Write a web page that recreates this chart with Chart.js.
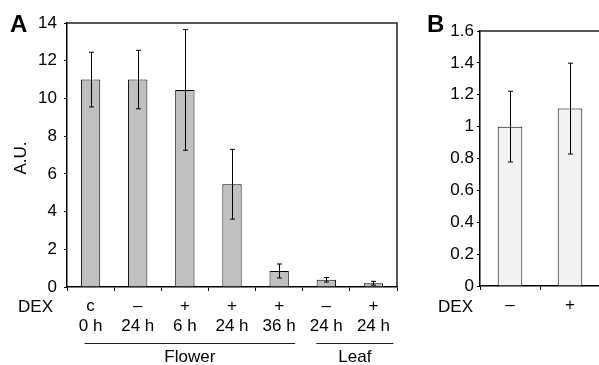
<!DOCTYPE html>
<html lang="en">
<head>
  <meta charset="UTF-8">
  <title>DEX expression - A.U.</title>
  <script src="https://cdn.jsdelivr.net/npm/chart.js"></script>
  <style>
    body {
      margin: 0;
      width: 599px;
      height: 365px;
      overflow: hidden;
      background: #fff;
      position: relative;
      font-family: "Liberation Sans", Arial, sans-serif;
    }
    canvas { position: absolute; top: 0; }
    #chartA { left: 0; }
    #chartB { left: 400px; }
  </style>
</head>
<body>
  <canvas id="chartA" width="410" height="365"></canvas>
  <canvas id="chartB" width="210" height="365"></canvas>

  <script>
    // Panel A data
    const dexA = ['c', '\u2013', '+', '+', '+', '\u2013', '+'];
    const timeA = ['0 h', '24 h', '6 h', '24 h', '36 h', '24 h', '24 h'];
    const valuesA = [11.0, 11.0, 10.45, 5.45, 0.85, 0.38, 0.2];
    const errorsA = [1.45, 1.55, 3.2, 1.85, 0.37, 0.12, 0.1];
    const ticksA = [0, 2, 4, 6, 8, 10, 12, 14];

    // Panel B data
    const dexB = ['\u2013', '+'];
    const valuesB = [1.0, 1.113];
    const errorsB = [0.222, 0.285];
    const ticksB = [0, 0.2, 0.4, 0.6, 0.8, 1, 1.2, 1.4, 1.6];

    const FONT = { family: '"Liberation Sans", Arial, sans-serif', size: 17 };

    // error bars from the dataset values
    const errorBars = {
      id: 'errorBars',
      afterDatasetsDraw(chart, args, opts) {
        const ctx = chart.ctx;
        const y = chart.scales.y;
        const meta = chart.getDatasetMeta(0);
        const vals = chart.data.datasets[0].data;
        ctx.save();
        ctx.strokeStyle = '#000';
        ctx.lineWidth = 1;
        meta.data.forEach((bar, i) => {
          const e = opts.errors[i];
          const top = y.getPixelForValue(vals[i] + e);
          const bot = y.getPixelForValue(vals[i] - e);
          const x = Math.round(bar.x) + 0.5;
          ctx.beginPath();
          ctx.moveTo(x, top); ctx.lineTo(x, bot);
          ctx.moveTo(x - 2.5, top); ctx.lineTo(x + 2.5, top);
          ctx.moveTo(x - 2.5, bot); ctx.lineTo(x + 2.5, bot);
          ctx.stroke();
        });
        ctx.restore();
      }
    };

    // top and right border of the plot box + extra texts
    const frame = {
      id: 'frame',
      afterDraw(chart, args, opts) {
        const ctx = chart.ctx;
        const a = chart.chartArea;
        const xs = chart.scales.x;
        ctx.save();
        ctx.strokeStyle = '#222';
        ctx.lineWidth = 1.5;
        ctx.beginPath();
        ctx.moveTo(a.left, a.top);
        ctx.lineTo(a.right, a.top);
        ctx.lineTo(a.right, a.bottom);
        ctx.stroke();

        ctx.fillStyle = '#000';
        ctx.font = '17px "Liberation Sans", Arial, sans-serif';
        ctx.textAlign = 'right';
        ctx.textBaseline = 'middle';
        ctx.fillText('DEX', opts.dexRight, 307);

        ctx.font = 'bold 24px "Liberation Sans", Arial, sans-serif';
        ctx.textAlign = 'left';
        ctx.textBaseline = 'alphabetic';
        ctx.fillText(opts.letter, opts.letterX, 32);

        if (opts.title) {
          ctx.font = '17px "Liberation Sans", Arial, sans-serif';
          ctx.save();
          ctx.translate(21, 158);
          ctx.rotate(-Math.PI / 2);
          ctx.textAlign = 'center';
          ctx.textBaseline = 'middle';
          ctx.fillText(opts.title, 0, 0);
          ctx.restore();
        }

        (opts.groups || []).forEach(g => {
          const x1 = xs.getPixelForValue(g.from) + g.padL;
          const x2 = xs.getPixelForValue(g.to) + g.padR;
          ctx.lineWidth = 1;
          ctx.beginPath();
          ctx.moveTo(x1, 343.5);
          ctx.lineTo(x2, 343.5);
          ctx.stroke();
          ctx.textAlign = 'center';
          ctx.textBaseline = 'middle';
          ctx.fillText(g.label, (x1 + x2) / 2, 357);
        });
        ctx.restore();
      }
    };

    function makeChart(id, labels, values, errors, ticks, fill, extra) {
      return new Chart(document.getElementById(id), {
        type: 'bar',
        data: {
          labels: labels,
          datasets: [{
            data: values,
            backgroundColor: fill,
            borderColor: '#000',
            borderWidth: 1,
            borderSkipped: 'bottom',
            barPercentage: 0.41,
            categoryPercentage: 1
          }]
        },
        options: {
          responsive: false,
          animation: false,
          layout: { padding: extra.padding },
          plugins: {
            legend: { display: false },
            tooltip: { enabled: false },
            errorBars: { errors: errors },
            frame: extra.frame
          },
          scales: {
            x: {
              afterFit: s => { s.height = extra.xHeight; },
              grid: { drawOnChartArea: false, drawTicks: true, tickLength: 4, color: '#000', offset: true },
              border: { color: '#000', width: 1.5 },
              ticks: { color: '#000', font: Object.assign({ lineHeight: 1.2 }, FONT), padding: 5, maxRotation: 0, autoSkip: false }
            },
            y: {
              min: ticks[0],
              max: ticks[ticks.length - 1],
              afterFit: s => { s.width = extra.yWidth; },
              afterBuildTicks: s => { s.ticks = ticks.map(v => ({ value: v })); },
              grid: { drawOnChartArea: false, drawTicks: true, tickLength: 3, color: '#000' },
              border: { color: '#000', width: 1.5 },
              ticks: {
                color: '#000', font: FONT, padding: extra.yPad,
                callback: v => String(Math.round(v * 10) / 10)
              }
            }
          }
        },
        plugins: [errorBars, frame]
      });
    }

    makeChart('chartA', dexA.map((d, i) => [d, timeA[i]]), valuesA, errorsA, ticksA, '#c0c0c0', {
      padding: { top: 23, right: 13, left: 0, bottom: 0 },
      xHeight: 78, yWidth: 67, yPad: 7,
      frame: {
        letter: 'A', letterX: 10, dexRight: 53, title: 'A.U.',
        groups: [
          { label: 'Flower', from: 0, to: 4, padL: -6, padR: 16 },
          { label: 'Leaf', from: 5, to: 6, padL: -10, padR: 20 }
        ]
      }
    });

    makeChart('chartB', dexB, valuesB, errorsB, ticksB, '#f2f2f2', {
      padding: { top: 31, right: 10, left: 0, bottom: 0 },
      xHeight: 79, yWidth: 80, yPad: 3,
      frame: { letter: 'B', letterX: 27, dexRight: 73 }
    });
  </script>
</body>
</html>
